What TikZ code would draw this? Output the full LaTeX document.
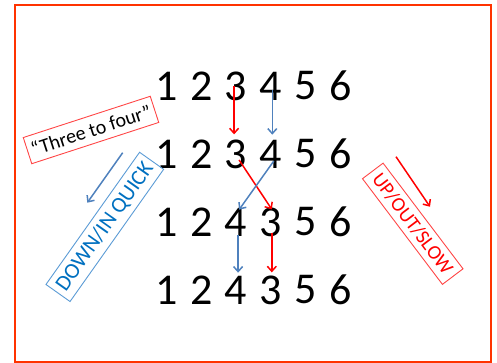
\documentclass[tikz,border=0pt]{standalone}
\usepackage{fontspec}
\setmainfont{Carlito}
\usetikzlibrary{arrows.meta}

\definecolor{framered}{RGB}{255,51,0}
\definecolor{boxred}{RGB}{255,70,70}
\definecolor{swapblue}{RGB}{79,129,189}
\definecolor{boxblue}{RGB}{91,155,213}
\definecolor{textblue}{RGB}{0,112,192}

\begin{document}
\begin{tikzpicture}[x=1pt,y=-1pt,
    digit/.style={inner sep=0pt, font=\fontsize{44}{44}\selectfont},
    swap/.style={line width=1.5pt, -{Straight Barb[length=5pt,width=9pt]}},
    labelbox/.style={draw, line width=0.9pt, inner sep=0pt, align=center}]
  \useasboundingbox (0,0) rectangle (497,363);
  \draw[framered, line width=2pt] (15,5) rectangle (490.7,361.7);
  % rows of digits
  \foreach \r/\y/\seq in {1/86/{1,2,3,4,5,6}, 2/154/{1,2,3,4,5,6},
                          3/222/{1,2,4,3,5,6}, 4/290/{1,2,4,3,5,6}} {
    \foreach \n [count=\c] in \seq {
      \node[digit] (d\r\c) at ({166.7+34.7*(\c-1)},\y) {\n};
    }
  }
  % the swap
  \draw[swap, red] ([xshift=-2pt]d13.center) -- ([xshift=-2pt,yshift=5pt]d23.north);
  \draw[swap, swapblue] ([xshift=1.5pt,yshift=-4pt]d14.center) -- ([xshift=1.5pt,yshift=5pt]d24.north);
  \draw[swap, red] ([xshift=3pt,yshift=-6pt]d23.center) -- ([xshift=1pt,yshift=-2pt]d34.north);
  \draw[swap, swapblue] ([xshift=3pt,yshift=-7pt]d24.center) -- ([xshift=3pt,yshift=-2pt]d33.north);
  \draw[swap, swapblue] ([xshift=2pt,yshift=1pt]d33.south) -- ([xshift=2pt,yshift=3pt]d43.north);
  \draw[swap, red] ([xshift=1pt,yshift=4pt]d34.south) -- ([xshift=1pt,yshift=3pt]d44.north);
  % labels
  \node[labelbox, boxred, text=black, rotate=18, minimum width=133.5pt, minimum height=27.5pt,
        font=\fontsize{20}{20}\selectfont] (three) at (91,130) {“Three to four”};
  \node[labelbox, boxblue, text=textblue, rotate=54.7, minimum width=162pt, minimum height=29.5pt,
        font=\fontsize{22}{22}\selectfont] (down) at (104.8,226.9) {DOWN/IN QUICK};
  \node[labelbox, boxred, text=red, rotate=-52.9, minimum width=132.5pt, minimum height=25.8pt,
        font=\fontsize{20}{20}\selectfont] (up) at (412.75,223.75) {UP/OUT/SLOW};
  \coordinate (downA) at (122.7,152.7);
  \coordinate (downB) at (87.3,202.7);
  \coordinate (upA) at (396,156.7);
  \coordinate (upB) at (430,206.7);
  \draw[swap, swapblue] (downA) -- (downB);
  \draw[swap, red] (upA) -- (upB);
\end{tikzpicture}
\end{document}
